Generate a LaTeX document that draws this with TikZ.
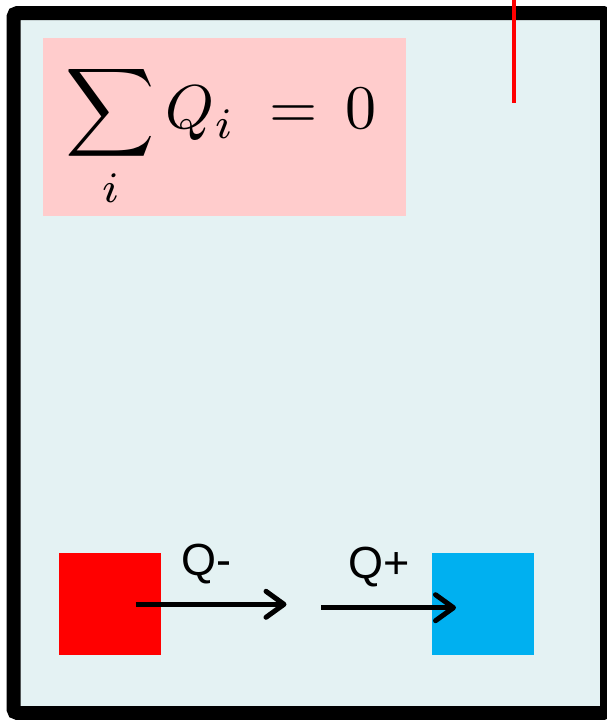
\documentclass[tikz,border=0pt]{standalone}
\usepackage{graphicx}
\usepackage{fontspec}
\setsansfont{Liberation Sans}
\usetikzlibrary{arrows.meta}

\definecolor{tankbg}{RGB}{228,242,243}
\definecolor{sumpink}{RGB}{255,204,204}
\definecolor{coldblue}{RGB}{0,176,240}

\tikzset{
    flow/.style={line width=5pt, -{Straight Barb[length=18pt, width=26pt, line cap=round, line join=round]}},
    flowlabel/.style={font=\sffamily\fontsize{45}{50}\selectfont, inner sep=0pt},
    block/.style={minimum size=102pt, inner sep=0pt}
}

\begin{document}
\begin{tikzpicture}[x=1pt, y=-1pt]
    \useasboundingbox (0,0) rectangle (607,720);
    \draw[line width=14pt, rounded corners=4pt, fill=tankbg] (13.5,13) rectangle (607,713);
    \draw[red, line width=3.5pt] (514,0) -- (514,103);
    \node[fill=sumpink, minimum width=363pt, minimum height=178pt, inner sep=0pt] (sumbox) at (224.5,127) {};
    \node[inner sep=0pt] (sumtext) at (221,136) {\scalebox{6.2}{$\displaystyle\sum_i Q_i \;=\, 0$}};
    \node[block, fill=red] (hot) at (110,604) {};
    \node[block, fill=coldblue] (cold) at (482.5,604) {};
    \coordinate (hotout) at (135.5,604.3);
    \coordinate (minusend) at (286.5,604.3);
    \coordinate (plusstart) at (321,607.7);
    \coordinate (coldin) at (456,607.7);
    \draw[flow] (hotout) -- (minusend) node[flowlabel, pos=0.47, above=18pt] {Q-};
    \draw[flow] (plusstart) -- (coldin) node[flowlabel, pos=0.43, above=18pt] {Q+};
\end{tikzpicture}
\end{document}
